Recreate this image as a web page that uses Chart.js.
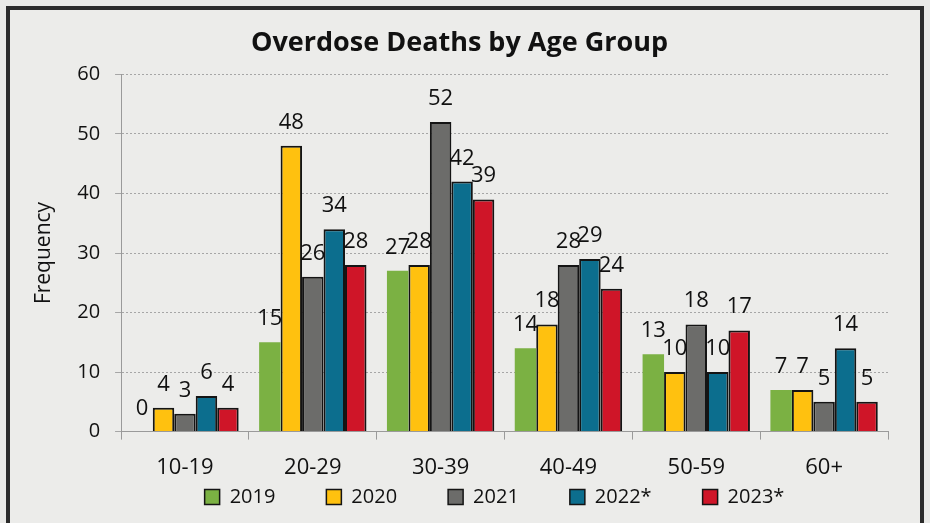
<!DOCTYPE html>
<html>
<head>
<meta charset="utf-8">
<script src="https://cdn.jsdelivr.net/npm/chart.js@4"></script>
<style>
  html, body { margin: 0; padding: 0; background: #e9e9e7; overflow: hidden; }
  #frame {
    position: absolute; left: 6px; top: 6px; width: 918px; height: 530px;
    border: 4px solid #2b2b2b; background: #ececea; box-sizing: border-box;
  }
  #chart { position: absolute; left: 0; top: 0; }
</style>
</head>
<body>
<div id="frame"></div>
<canvas id="chart" width="930" height="523"></canvas>
<script>
const ageGroups = ["10-19", "20-29", "30-39", "40-49", "50-59", "60+"];
const years = ["2019", "2020", "2021", "2022*", "2023*"];
const deaths2019 = [0, 15, 27, 14, 13, 7];
const deaths2020 = [4, 48, 28, 18, 10, 7];
const deaths2021 = [3, 26, 52, 28, 18, 5];
const deaths2022 = [6, 34, 42, 29, 10, 14];
const deaths2023 = [4, 28, 39, 24, 17, 5];
const yTicks = [0, 10, 20, 30, 40, 50, 60];

const colors = ["#7bb143", "#ffc10f", "#6c6c6a", "#0c6e8e", "#cf1528"];
const font = "'Open Sans', 'Liberation Sans', sans-serif";

// draw the value above each bar
const valueLabels = {
  id: "valueLabels",
  afterDatasetsDraw(chart) {
    const ctx = chart.ctx;
    ctx.save();
    ctx.font = "22px " + font;
    ctx.fillStyle = "#111";
    ctx.textAlign = "center";
    ctx.textBaseline = "alphabetic";
    chart.data.datasets.forEach((ds, i) => {
      chart.getDatasetMeta(i).data.forEach((bar, j) => {
        ctx.fillText(ds.data[j], bar.x, bar.y - 17);
      });
    });
    ctx.restore();
  },
};

// legend sits a little right of the canvas centre in the original
const legendShift = {
  id: "legendShift",
  afterLayout(chart) {
    chart.legend.left += 35;
    chart.legend.right += 35;
  },
};

const allData = [deaths2019, deaths2020, deaths2021, deaths2022, deaths2023];

new Chart(document.getElementById("chart").getContext("2d"), {
  type: "bar",
  data: {
    labels: ageGroups,
    datasets: years.map((y, i) => ({
      label: y,
      data: allData[i],
      backgroundColor: colors[i],
      borderColor: "#141414",
      borderWidth: i === 0 ? 0 : 2,
      categoryPercentage: 0.84,
      barPercentage: 1.0,
    })),
  },
  options: {
    responsive: false,
    animation: false,
    devicePixelRatio: 1,
    layout: { padding: { left: 31, right: 42, top: 11, bottom: 6 } },
    plugins: {
      title: {
        display: true,
        text: "Overdose Deaths by Age Group",
        color: "#111",
        font: { family: font, size: 27, weight: "bold" },
        padding: { top: 16, bottom: 15 },
      },
      legend: {
        position: "bottom",
        labels: {
          color: "#111",
          font: { family: font, size: 20 },
          boxWidth: 15,
          boxHeight: 15,
          padding: 6,
          generateLabels(chart) {
            const n = chart.data.datasets.length;
            return chart.data.datasets.map((ds, i) => ({
              text: i < n - 1 ? ds.label + "\u2003\u2003\u2005" : ds.label,
              fillStyle: ds.backgroundColor,
              strokeStyle: "#141414",
              lineWidth: 1.5,
              datasetIndex: i,
              fontColor: "#111",
            }));
          },
        },
      },
      tooltip: { enabled: false },
    },
    scales: {
      x: {
        afterFit(scale) {
          scale.height -= 15;
        },
        grid: { display: true, drawOnChartArea: false, offset: true, color: "#9a9a9a", tickLength: 8 },
        border: { color: "#9a9a9a" },
        ticks: { color: "#111", font: { family: font, size: 22 }, padding: 15, maxRotation: 0 },
      },
      y: {
        min: 0,
        max: 60,
        afterBuildTicks(axis) {
          axis.ticks = yTicks.map((v) => ({ value: v }));
        },
        grid: { color: "#a6a6a6", tickLength: 6 },
        border: { color: "#9a9a9a", dash: [2, 2] },
        ticks: { color: "#111", font: { family: font, size: 20 }, padding: 15 },
        title: {
          display: true,
          text: "Frequency",
          color: "#111",
          font: { family: font, size: 21 },
          padding: { top: 0, bottom: 6 },
        },
      },
    },
  },
  plugins: [valueLabels, legendShift],
});
</script>
</body>
</html>
